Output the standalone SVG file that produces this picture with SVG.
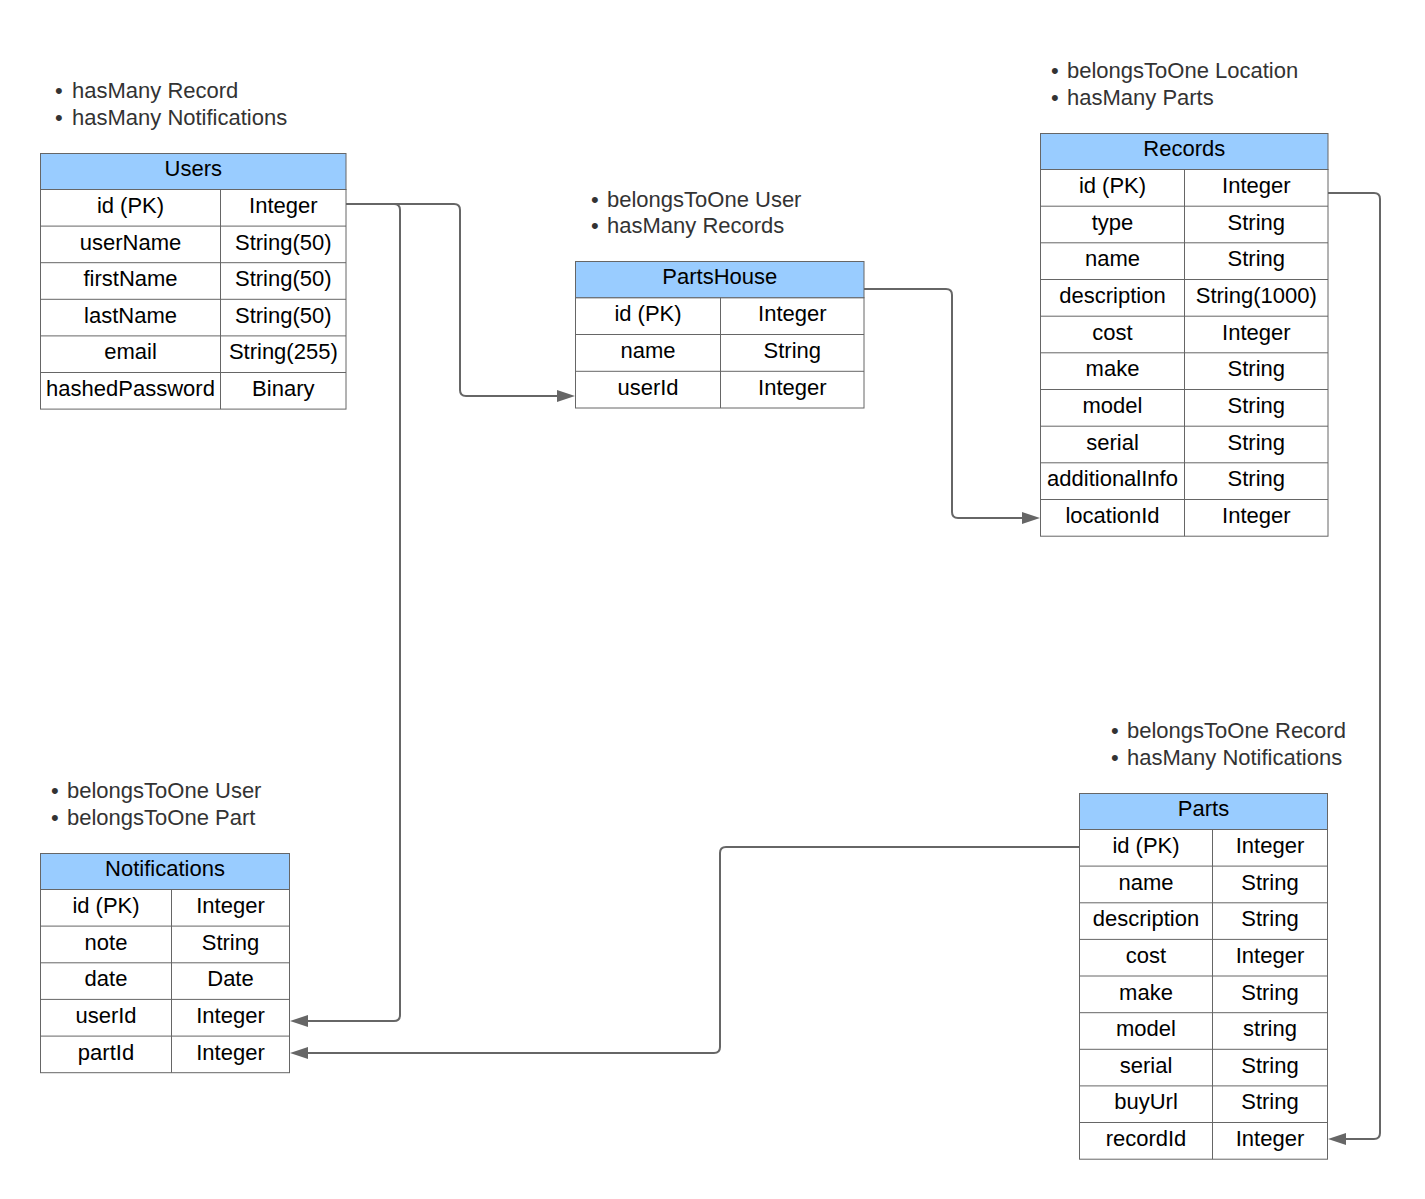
<svg xmlns="http://www.w3.org/2000/svg" width="1425" height="1199" viewBox="0 0 1425 1199">
  <style>
    .hdr { fill: #99ccff; stroke: #666666; stroke-width: 1; }
    .cell { fill: #ffffff; stroke: #666666; stroke-width: 1; }
    .grid { stroke: #666666; stroke-width: 1; fill: none; }
    text { font-family: "Liberation Sans", Arial, sans-serif; font-size: 22px; }
    .t { fill: #000000; text-anchor: middle; }
    .note { fill: #333333; }
    .conn { fill: none; stroke: #666666; stroke-width: 2; stroke-linejoin: round; }
  </style>
  <defs>
    <marker id="arrow" markerUnits="userSpaceOnUse" markerWidth="19" markerHeight="13" refX="14" refY="6" orient="auto">
      <path d="M0,0 L18,6 L0,12 Z" fill="#666666"/>
    </marker>
  </defs>
  <rect width="1425" height="1199" fill="#ffffff"/>

  <!-- relationship notes -->
  <g id="notes">
    <text class="note"><tspan x="55" y="98">•</tspan><tspan x="72" y="98">hasMany Record</tspan></text>
    <text class="note"><tspan x="55" y="125">•</tspan><tspan x="72" y="125">hasMany Notifications</tspan></text>
    <text class="note"><tspan x="591" y="207">•</tspan><tspan x="607" y="207">belongsToOne User</tspan></text>
    <text class="note"><tspan x="591" y="233">•</tspan><tspan x="607" y="233">hasMany Records</tspan></text>
    <text class="note"><tspan x="1051" y="78">•</tspan><tspan x="1067" y="78">belongsToOne Location</tspan></text>
    <text class="note"><tspan x="1051" y="105">•</tspan><tspan x="1067" y="105">hasMany Parts</tspan></text>
    <text class="note"><tspan x="1111" y="738">•</tspan><tspan x="1127" y="738">belongsToOne Record</tspan></text>
    <text class="note"><tspan x="1111" y="765">•</tspan><tspan x="1127" y="765">hasMany Notifications</tspan></text>
    <text class="note"><tspan x="51" y="798">•</tspan><tspan x="67" y="798">belongsToOne User</tspan></text>
    <text class="note"><tspan x="51" y="825">•</tspan><tspan x="67" y="825">belongsToOne Part</tspan></text>
  </g>

  <!-- Users table -->
  <g id="users">
    <rect class="cell" x="40.5" y="189.5" width="305.5" height="219.6"/>
    <rect class="hdr" x="40.5" y="153.5" width="305.5" height="36"/>
    <path class="grid" d="M220.5,189.5 V409.1 M40.5,226.1 H346 M40.5,262.7 H346 M40.5,299.3 H346 M40.5,335.9 H346 M40.5,372.5 H346"/>
    <text class="t" x="193.3" y="176">Users</text>
    <text class="t" x="130.5" y="213">id (PK)</text><text class="t" x="283.3" y="213">Integer</text>
    <text class="t" x="130.5" y="249.6">userName</text><text class="t" x="283.3" y="249.6">String(50)</text>
    <text class="t" x="130.5" y="286.2">firstName</text><text class="t" x="283.3" y="286.2">String(50)</text>
    <text class="t" x="130.5" y="322.8">lastName</text><text class="t" x="283.3" y="322.8">String(50)</text>
    <text class="t" x="130.5" y="359.4">email</text><text class="t" x="283.3" y="359.4">String(255)</text>
    <text class="t" x="130.5" y="396">hashedPassword</text><text class="t" x="283.3" y="396">Binary</text>
  </g>

  <!-- PartsHouse table -->
  <g id="partshouse">
    <rect class="cell" x="575.5" y="297.7" width="288.5" height="110.3"/>
    <rect class="hdr" x="575.5" y="261.5" width="288.5" height="36.2"/>
    <path class="grid" d="M720.5,297.7 V408 M575.5,334.5 H864 M575.5,371.3 H864"/>
    <text class="t" x="719.8" y="284">PartsHouse</text>
    <text class="t" x="648" y="321.2">id (PK)</text><text class="t" x="792.3" y="321.2">Integer</text>
    <text class="t" x="648" y="358">name</text><text class="t" x="792.3" y="358">String</text>
    <text class="t" x="648" y="394.8">userId</text><text class="t" x="792.3" y="394.8">Integer</text>
  </g>

  <!-- Records table -->
  <g id="records">
    <rect class="cell" x="1040.5" y="169.5" width="287.5" height="366.7"/>
    <rect class="hdr" x="1040.5" y="133.5" width="287.5" height="36"/>
    <path class="grid" d="M1184.5,169.5 V536.2 M1040.5,206.2 H1328 M1040.5,242.8 H1328 M1040.5,279.5 H1328 M1040.5,316.2 H1328 M1040.5,352.8 H1328 M1040.5,389.5 H1328 M1040.5,426.2 H1328 M1040.5,462.8 H1328 M1040.5,499.5 H1328"/>
    <text class="t" x="1184.3" y="156">Records</text>
    <text class="t" x="1112.5" y="193">id (PK)</text><text class="t" x="1256.3" y="193">Integer</text>
    <text class="t" x="1112.5" y="229.7">type</text><text class="t" x="1256.3" y="229.7">String</text>
    <text class="t" x="1112.5" y="266.3">name</text><text class="t" x="1256.3" y="266.3">String</text>
    <text class="t" x="1112.5" y="303">description</text><text class="t" x="1256.3" y="303">String(1000)</text>
    <text class="t" x="1112.5" y="339.7">cost</text><text class="t" x="1256.3" y="339.7">Integer</text>
    <text class="t" x="1112.5" y="376.3">make</text><text class="t" x="1256.3" y="376.3">String</text>
    <text class="t" x="1112.5" y="413">model</text><text class="t" x="1256.3" y="413">String</text>
    <text class="t" x="1112.5" y="449.7">serial</text><text class="t" x="1256.3" y="449.7">String</text>
    <text class="t" x="1112.5" y="486.3">additionalInfo</text><text class="t" x="1256.3" y="486.3">String</text>
    <text class="t" x="1112.5" y="523">locationId</text><text class="t" x="1256.3" y="523">Integer</text>
  </g>

  <!-- Parts table -->
  <g id="parts">
    <rect class="cell" x="1079.5" y="829.5" width="248" height="329.7"/>
    <rect class="hdr" x="1079.5" y="793.5" width="248" height="36"/>
    <path class="grid" d="M1212.5,829.5 V1159.2 M1079.5,866.1 H1327.5 M1079.5,902.8 H1327.5 M1079.5,939.4 H1327.5 M1079.5,976 H1327.5 M1079.5,1012.7 H1327.5 M1079.5,1049.3 H1327.5 M1079.5,1085.9 H1327.5 M1079.5,1122.5 H1327.5"/>
    <text class="t" x="1203.5" y="816">Parts</text>
    <text class="t" x="1146" y="853">id (PK)</text><text class="t" x="1270" y="853">Integer</text>
    <text class="t" x="1146" y="889.6">name</text><text class="t" x="1270" y="889.6">String</text>
    <text class="t" x="1146" y="926.3">description</text><text class="t" x="1270" y="926.3">String</text>
    <text class="t" x="1146" y="962.9">cost</text><text class="t" x="1270" y="962.9">Integer</text>
    <text class="t" x="1146" y="999.5">make</text><text class="t" x="1270" y="999.5">String</text>
    <text class="t" x="1146" y="1036.2">model</text><text class="t" x="1270" y="1036.2">string</text>
    <text class="t" x="1146" y="1072.8">serial</text><text class="t" x="1270" y="1072.8">String</text>
    <text class="t" x="1146" y="1109.4">buyUrl</text><text class="t" x="1270" y="1109.4">String</text>
    <text class="t" x="1146" y="1146">recordId</text><text class="t" x="1270" y="1146">Integer</text>
  </g>

  <!-- Notifications table -->
  <g id="notifications">
    <rect class="cell" x="40.5" y="889.5" width="249" height="183.2"/>
    <rect class="hdr" x="40.5" y="853.5" width="249" height="36"/>
    <path class="grid" d="M171.5,889.5 V1072.7 M40.5,926.1 H289.5 M40.5,962.8 H289.5 M40.5,999.4 H289.5 M40.5,1036.1 H289.5"/>
    <text class="t" x="165" y="876">Notifications</text>
    <text class="t" x="106" y="913">id (PK)</text><text class="t" x="230.5" y="913">Integer</text>
    <text class="t" x="106" y="949.6">note</text><text class="t" x="230.5" y="949.6">String</text>
    <text class="t" x="106" y="986.3">date</text><text class="t" x="230.5" y="986.3">Date</text>
    <text class="t" x="106" y="1022.9">userId</text><text class="t" x="230.5" y="1022.9">Integer</text>
    <text class="t" x="106" y="1059.6">partId</text><text class="t" x="230.5" y="1059.6">Integer</text>
  </g>

  <!-- foreign-key connectors -->
  <g id="connectors">
    <path class="conn" marker-end="url(#arrow)" d="M346,204 H454 Q460,204 460,210 V390 Q460,396 466,396 H571"/>
    <path class="conn" marker-end="url(#arrow)" d="M346,204 H394 Q400,204 400,210 V1015 Q400,1021 394,1021 H294"/>
    <path class="conn" marker-end="url(#arrow)" d="M864,289 H946 Q952,289 952,295 V512 Q952,518 958,518 H1036"/>
    <path class="conn" marker-end="url(#arrow)" d="M1328,193 H1374 Q1380,193 1380,199 V1133 Q1380,1139 1374,1139 H1332"/>
    <path class="conn" marker-end="url(#arrow)" d="M1079,847 H726 Q720,847 720,853 V1047 Q720,1053 714,1053 H294"/>
  </g>
</svg>
